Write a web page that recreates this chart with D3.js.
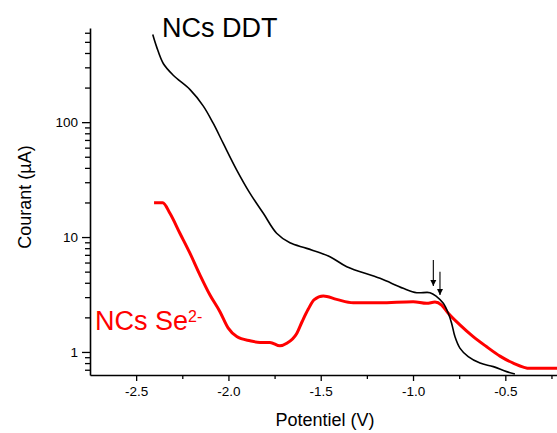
<!DOCTYPE html>
<html><head><meta charset="utf-8">
<script src="https://cdn.jsdelivr.net/npm/d3@7"></script>
<style>body{margin:0;background:#fff}svg{display:block}text{font-family:"Liberation Sans",Arial,sans-serif}</style>
</head><body>
<svg id="c" width="557" height="433"></svg>
<script>
// NCs DDT (black)
const ddtV = [-2.410,-2.389,-2.353,-2.299,-2.208,-2.136,-2.082,-2.028,-1.955,-1.883,-1.811,-1.739,-1.667,-1.576,-1.450,-1.359,-1.179,-1.053,-0.980,-0.908,-0.872,-0.836,-0.809,-0.791,-0.773,-0.746,-0.701,-0.637,-0.565,-0.493,-0.448];
const ddtI = [579,452,324,256,192,138,97.4,65.3,38.3,24.0,16.1,10.8,8.92,7.97,6.74,5.52,4.37,3.58,3.28,3.28,3.03,2.65,2.17,1.78,1.36,1.08,0.91,0.80,0.745,0.674,0.644];
// NCs Se2- (red)
const seV = [-2.403,-2.356,-2.317,-2.263,-2.208,-2.154,-2.100,-2.046,-2.001,-1.955,-1.883,-1.829,-1.775,-1.721,-1.684,-1.630,-1.600,-1.568,-1.535,-1.486,-1.414,-1.324,-1.179,-0.999,-0.926,-0.881,-0.845,-0.809,-0.746,-0.674,-0.601,-0.529,-0.457,-0.366,-0.220];
const seI = [19.9,19.9,16.1,10.8,7.2,4.67,3.13,2.24,1.61,1.36,1.25,1.21,1.21,1.13,1.19,1.45,1.85,2.35,2.85,3.07,2.87,2.68,2.68,2.74,2.65,2.72,2.56,2.17,1.72,1.36,1.11,0.92,0.80,0.72,0.72];
// arrows (x, y start, y tip)
const arrowV = [-0.890,-0.854];
const arrowI0 = [6.3,5.0];
const arrowI1 = [3.75,3.13];
const xTicks = [-2.5,-2.0,-1.5,-1.0,-0.5];
const xTickLabels = ["-2.5","-2.0","-1.5","-1.0","-0.5"];
const xMinor = [-2.25,-1.75,-1.25,-0.75,-0.25];
const yTicks = [1,10,100];
const yTickLabels = ["1","10","100"];

const svg = d3.select("#c");
const x = d3.scaleLinear().domain([-2.75,-0.22]).range([90,557]);
const y = d3.scaleLog().domain([0.63,660]).range([375,28]);

const yMinor = [];
[0.1,1,10,100].forEach(d=>{for(let k=2;k<=9;k++){const v=d*k; if(v>=0.63&&v<=660) yMinor.push(v);}});

// minor ticks
svg.append("g").attr("transform","translate(0,375)")
  .call(d3.axisBottom(x).tickValues(xMinor).tickSize(4).tickSizeOuter(0).tickFormat(""))
  .call(g=>g.select(".domain").remove())
  .call(g=>g.selectAll("line").attr("stroke","#000").attr("stroke-width",1.3));
svg.append("g").attr("transform","translate(90,0)")
  .call(d3.axisLeft(y).tickValues(yMinor).tickSize(5).tickSizeOuter(0).tickFormat(""))
  .call(g=>g.select(".domain").remove())
  .call(g=>g.selectAll("line").attr("stroke","#000").attr("stroke-width",1.3));

// major axes
const gx = svg.append("g").attr("transform","translate(0,375)")
  .call(d3.axisBottom(x).tickValues(xTicks).tickSize(6).tickSizeOuter(0).tickPadding(5).tickFormat((d,i)=>xTickLabels[i]));
const gy = svg.append("g").attr("transform","translate(90,0)")
  .call(d3.axisLeft(y).tickValues(yTicks).tickSize(8).tickSizeOuter(0).tickPadding(4).tickFormat((d,i)=>yTickLabels[i]));
[gx,gy].forEach(g=>{
  g.select(".domain").attr("stroke","#000").attr("stroke-width",1.6);
  g.selectAll("line").attr("stroke","#000").attr("stroke-width",1.3);
  g.selectAll("text").attr("font-size",13.5).attr("fill","#000").attr("font-family","Liberation Sans, Arial, sans-serif");
});

const lineRed = d3.line().x(d=>x(d[0])).y(d=>y(d[1])).curve(d3.curveMonotoneX);
const lineBlack = d3.line().x(d=>x(d[0])).y(d=>y(d[1])).curve(d3.curveCatmullRom.alpha(0.5));
svg.append("path").datum(seV.map((v,i)=>[v,seI[i]])).attr("d",lineRed)
  .attr("fill","none").attr("stroke","#ff0000").attr("stroke-width",3);
svg.append("path").datum(ddtV.map((v,i)=>[v,ddtI[i]])).attr("d",lineBlack)
  .attr("fill","none").attr("stroke","#000").attr("stroke-width",1.6);

// arrows
svg.append("defs").append("marker").attr("id","ah").attr("viewBox","0 0 10 10")
  .attr("refX",10).attr("refY",5).attr("markerWidth",6).attr("markerHeight",7)
  .attr("markerUnits","userSpaceOnUse").attr("orient","auto")
  .append("path").attr("d","M0,0L10,5L0,10Z").attr("fill","#000");
arrowV.forEach((v,i)=>{
  svg.append("line").attr("x1",x(v)).attr("x2",x(v)).attr("y1",y(arrowI0[i])).attr("y2",y(arrowI1[i]))
    .attr("stroke","#000").attr("stroke-width",1.1).attr("marker-end","url(#ah)");
});

// labels
svg.append("text").attr("x",325).attr("y",426).attr("text-anchor","middle").attr("font-size",18).text("Potentiel (V)");
svg.append("text").attr("transform","translate(31,197) rotate(-90)").attr("text-anchor","middle").attr("font-size",18).text("Courant (µA)");
svg.append("text").attr("x",162).attr("y",37).attr("font-size",27).attr("fill","#000").text("NCs DDT");
const t = svg.append("text").attr("x",95).attr("y",330).attr("font-size",27).attr("fill","#ff0000");
t.append("tspan").text("NCs Se");
t.append("tspan").attr("font-size",16).attr("dy",-8).text("2-");
</script>
</body></html>
